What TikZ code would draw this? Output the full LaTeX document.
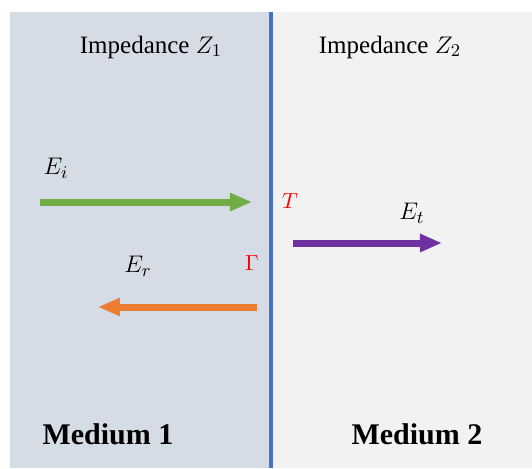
\documentclass[tikz,border=0pt]{standalone}
\usepackage{fontspec}
\setmainfont{Liberation Serif}
\usetikzlibrary{arrows.meta}

\definecolor{mediumone}{HTML}{D6DCE5}
\definecolor{mediumtwo}{HTML}{F2F2F2}
\definecolor{boundary}{HTML}{4472C4}
\definecolor{incgreen}{HTML}{70AD47}
\definecolor{refor}{HTML}{ED7D31}
\definecolor{transpurple}{HTML}{7030A0}

\begin{document}
\begin{tikzpicture}[x=0.5pt,y=-0.5pt]
    \tikzset{
        wave/.style={line width=3.5pt,
            -{Triangle[length=11pt,width=8.5pt]}},
        heading/.style={font=\fontsize{12.5}{14}\selectfont},
        medium/.style={font=\fontsize{15}{18}\selectfont\bfseries},
        field/.style={font=\fontsize{13}{15}\selectfont},
        coef/.style={text=red,font=\fontsize{11}{13}\selectfont}
    }
    \useasboundingbox (0,0) rectangle (532,468);
    \fill[white] (0,0) rectangle (532,468);

    % the two media and the interface
    \fill[mediumone] (10,12) rectangle (271,468);
    \fill[mediumtwo] (271,12) rectangle (532,468);
    \draw[boundary,line width=2pt] (271,12) -- (271,468);

    \node[heading] (imp-one) at (151,47) {Impedance $Z_1$};
    \node[heading] (imp-two) at (390,47) {Impedance $Z_2$};
    \node[medium] (med-one) at (108,434) {Medium 1};
    \node[medium] (med-two) at (417,434) {Medium 2};

    % waves
    \coordinate (inc-a) at (40,202);
    \coordinate (inc-b) at (252,202);
    \coordinate (tr-a) at (293,243);
    \coordinate (tr-b) at (442,243);
    \coordinate (ref-a) at (257,307);
    \coordinate (ref-b) at (98,307);
    \draw[wave,incgreen] (inc-a) -- (inc-b);
    \draw[wave,transpurple] (tr-a) -- (tr-b);
    \draw[wave,refor] (ref-a) -- (ref-b);

    \node[field] (lbl-inc) at (56,168) {$E_i$};
    \node[field] (lbl-tr) at (412,213) {$E_t$};
    \node[field] (lbl-ref) at (138,266) {$E_r$};
    \node[coef] (lbl-T) at (290,201) {$T$};
    \node[coef] (lbl-G) at (252,263) {$\Gamma$};
\end{tikzpicture}
\end{document}
